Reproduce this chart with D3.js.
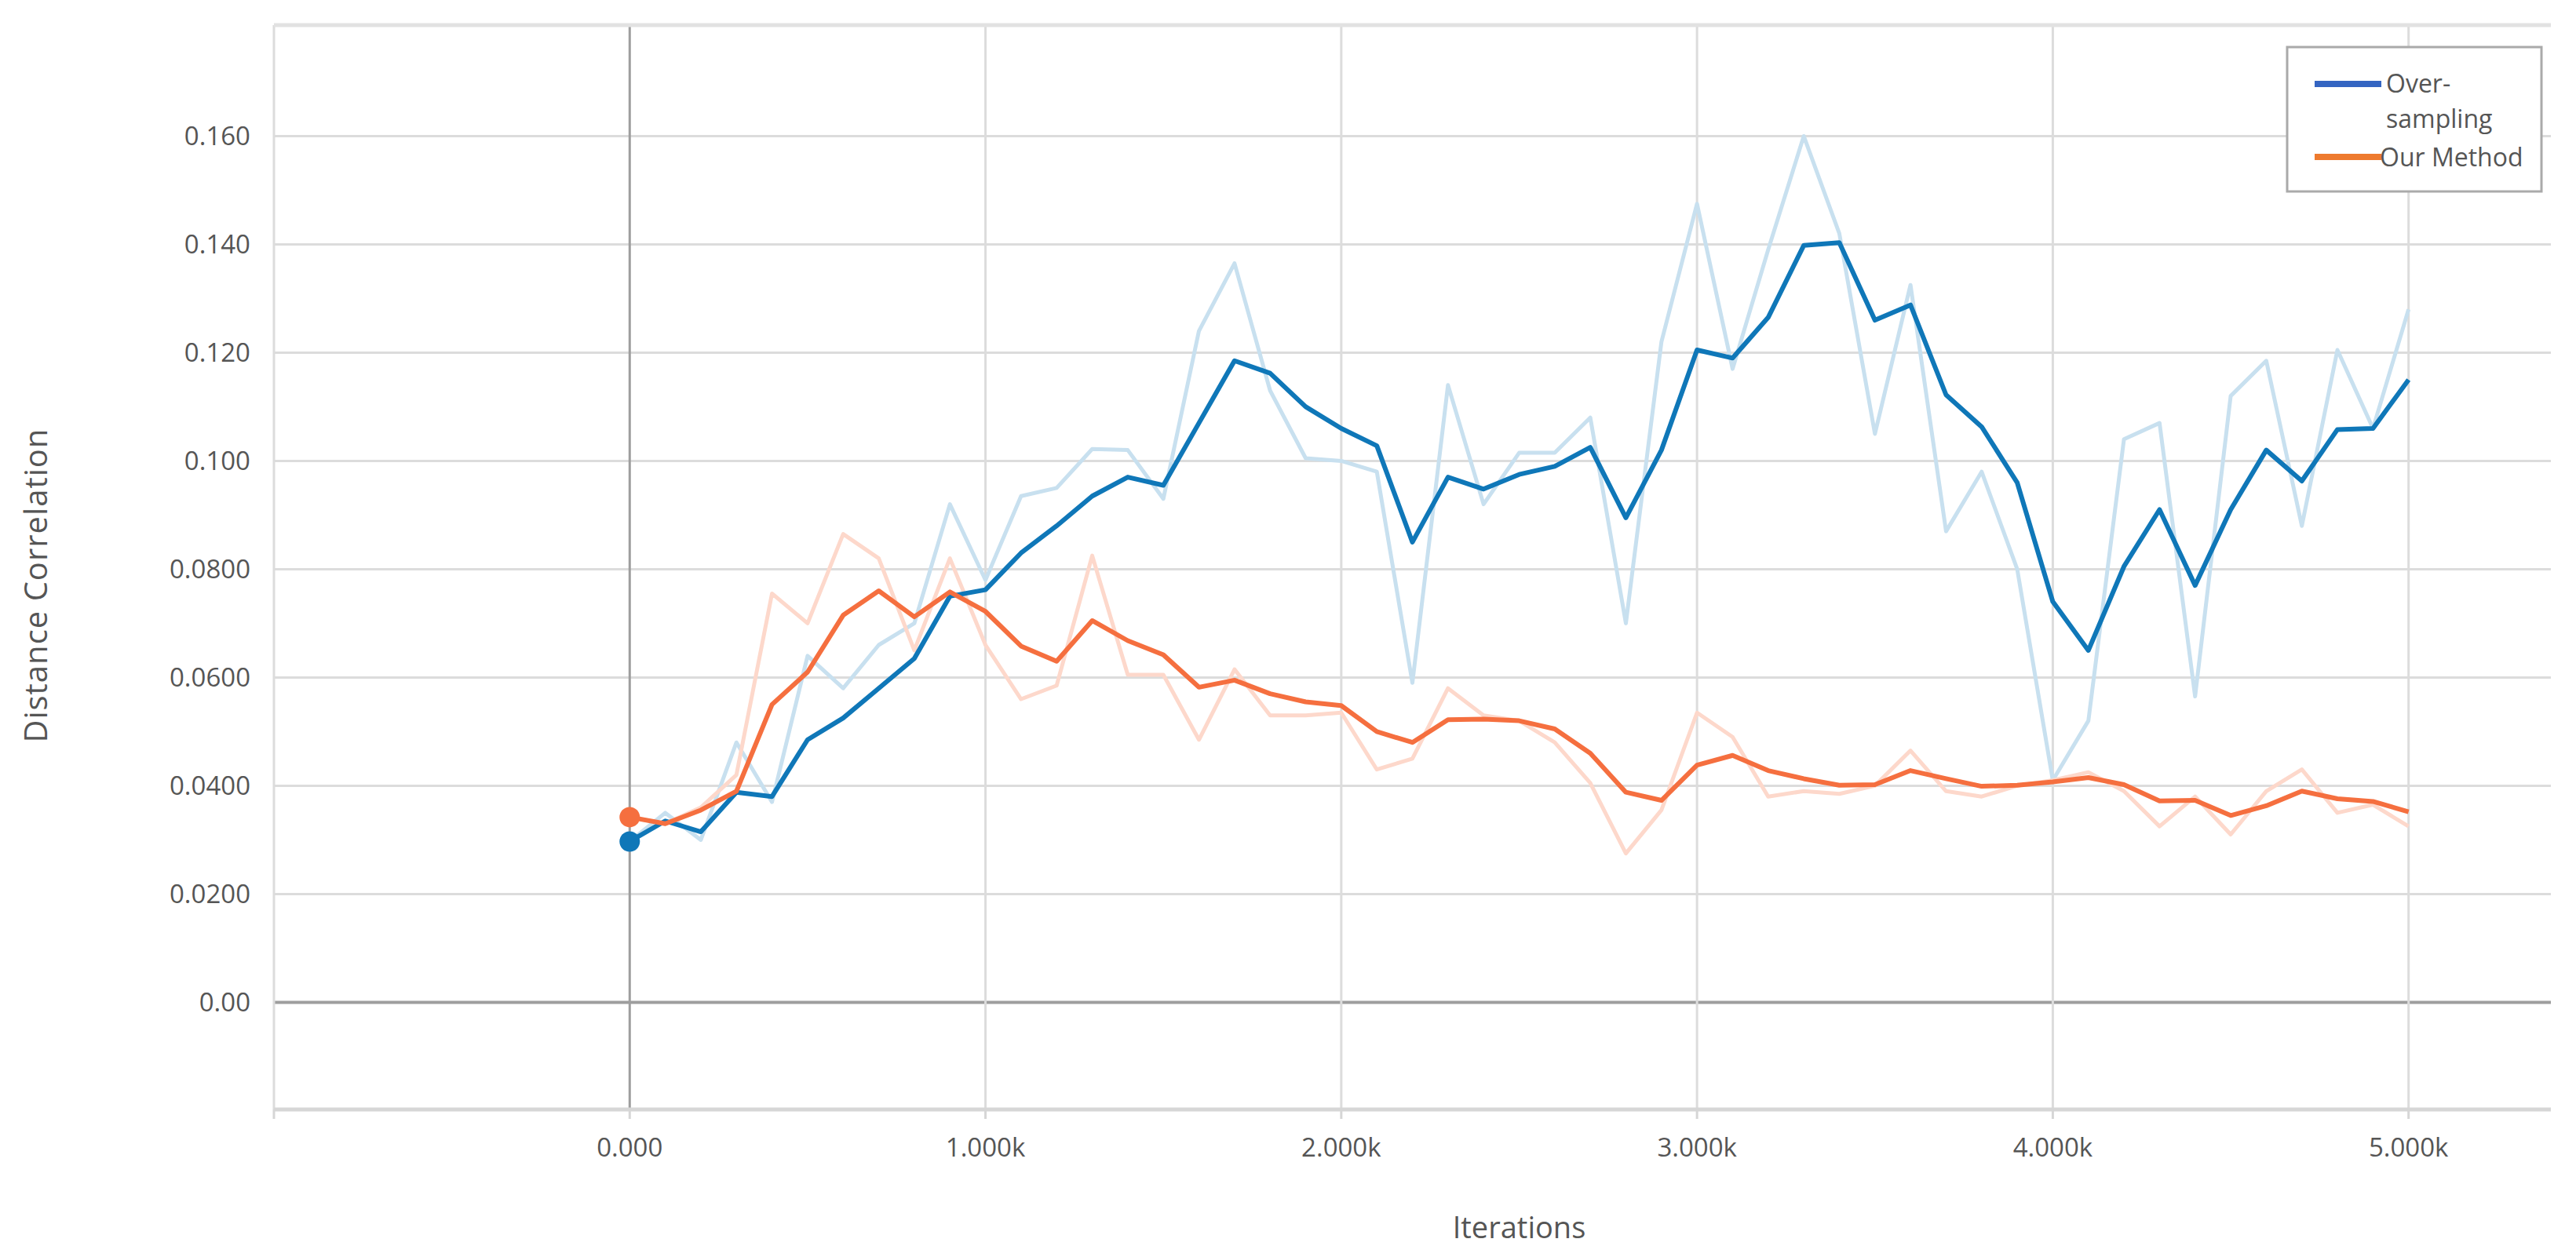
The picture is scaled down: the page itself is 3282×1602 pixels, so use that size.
<!DOCTYPE html>
<html><head><meta charset="utf-8">
<script src="https://cdn.jsdelivr.net/npm/d3@7"></script>
<style>body{margin:0;background:#fff}text{font-family:"Open Sans",sans-serif;fill:#555}</style>
</head><body><svg id="c" width="3282" height="1602"></svg>
<script>
var steps = d3.range(0, 5001, 100);
var overRaw = [0.0297,0.035,0.030,0.048,0.037,0.064,0.058,0.066,0.070,0.092,0.078,0.0935,0.095,0.1022,0.102,0.093,0.124,0.1365,0.113,0.1005,0.100,0.098,0.059,0.114,0.092,0.1015,0.1015,0.108,0.070,0.122,0.1475,0.117,0.139,0.160,0.142,0.105,0.1325,0.087,0.098,0.080,0.041,0.052,0.104,0.107,0.0565,0.112,0.1185,0.088,0.1205,0.106,0.128];
var overSmooth = [0.0297,0.0335,0.0315,0.0388,0.038,0.0485,0.0525,0.058,0.0635,0.075,0.0762,0.083,0.088,0.0935,0.097,0.0955,0.107,0.1185,0.1162,0.110,0.106,0.1028,0.085,0.097,0.0948,0.0975,0.099,0.1025,0.0895,0.102,0.1205,0.119,0.1265,0.1398,0.1403,0.126,0.1288,0.1122,0.1063,0.096,0.074,0.065,0.0805,0.091,0.077,0.091,0.102,0.0963,0.1058,0.106,0.115];
var oursRaw = [0.0342,0.033,0.036,0.042,0.0755,0.070,0.0865,0.082,0.065,0.082,0.066,0.056,0.0585,0.0825,0.0605,0.0605,0.0485,0.0615,0.053,0.053,0.0535,0.043,0.045,0.058,0.053,0.052,0.048,0.0405,0.0275,0.0355,0.0535,0.049,0.038,0.039,0.0385,0.040,0.0465,0.039,0.038,0.040,0.041,0.0425,0.039,0.0325,0.038,0.031,0.039,0.043,0.035,0.0365,0.0325];
var oursSmooth = [0.0342,0.033,0.0355,0.039,0.055,0.061,0.0715,0.076,0.0712,0.0758,0.0722,0.0658,0.0630,0.0705,0.0668,0.0642,0.0582,0.0595,0.057,0.0555,0.0548,0.050,0.048,0.0522,0.0523,0.052,0.0505,0.046,0.0388,0.0373,0.0438,0.0456,0.0428,0.0413,0.0401,0.0402,0.0428,0.0413,0.0399,0.0401,0.0407,0.0415,0.0402,0.0372,0.0373,0.0345,0.0363,0.039,0.0376,0.0371,0.0352];
var yTicks = [0, 0.02, 0.04, 0.06, 0.08, 0.10, 0.12, 0.14, 0.16];
var yTickLabels = ["0.00","0.0200","0.0400","0.0600","0.0800","0.100","0.120","0.140","0.160"];
var xTicks = [0, 1000, 2000, 3000, 4000, 5000];
var xTickLabels = ["0.000","1.000k","2.000k","3.000k","4.000k","5.000k"];
var seriesNames = ["Over-sampling", "Our Method"];

var svg = d3.select('#c');
var L = 349, R = 3250, T = 32, B = 1414;
var x = d3.scaleLinear().domain([-1000, 5400]).range([L, R]);
var y = d3.scaleLinear().domain([-0.0198, 0.1805]).range([B, T]);

// grid
svg.selectAll('.gy').data(yTicks).enter().append('line')
  .attr('x1', L).attr('x2', R).attr('y1', y).attr('y2', y)
  .attr('stroke', function(d) { return d === 0 ? '#9e9e9e' : '#dcdcdc'; })
  .attr('stroke-width', function(d) { return d === 0 ? 4 : 3; });
svg.selectAll('.gx').data([-1000].concat(xTicks)).enter().append('line')
  .attr('x1', x).attr('x2', x).attr('y1', T).attr('y2', B)
  .attr('stroke', function(d) { return d === 0 ? '#9e9e9e' : '#dcdcdc'; })
  .attr('stroke-width', 3);
svg.append('line').attr('x1', L).attr('x2', R).attr('y1', T).attr('y2', T).attr('stroke', '#e2e2e2').attr('stroke-width', 5);
svg.append('line').attr('x1', L).attr('x2', R).attr('y1', B).attr('y2', B).attr('stroke', '#d6d6d6').attr('stroke-width', 5);
svg.selectAll('.tk').data([-1000].concat(xTicks)).enter().append('line')
  .attr('x1', x).attr('x2', x).attr('y1', B).attr('y2', B + 12).attr('stroke', '#d6d6d6').attr('stroke-width', 3);

// tick labels
svg.selectAll('.yl').data(yTicks).enter().append('text')
  .attr('x', L - 30).attr('y', function(d) { return y(d) + 12; })
  .attr('text-anchor', 'end').attr('font-size', 33)
  .text(function(d, i) { return yTickLabels[i]; });
svg.selectAll('.xl').data(xTicks).enter().append('text')
  .attr('x', x).attr('y', 1474).attr('text-anchor', 'middle').attr('font-size', 33)
  .text(function(d, i) { return xTickLabels[i]; });
svg.append('text').attr('x', x(2500)).attr('y', 1578).attr('text-anchor', 'middle').attr('font-size', 38).text('Iterations');
svg.append('text').attr('transform', 'translate(60,' + y(0.077) + ') rotate(-90)').attr('text-anchor', 'middle')
  .attr('font-size', 40).attr('font-family', 'DejaVu Sans').attr('letter-spacing', 1).text('Distance Correlation');

// lines
var line = d3.line().x(function(d, i) { return x(steps[i]); }).y(function(d) { return y(d); });
function draw(data, color, w) {
  svg.append('path').datum(data).attr('d', line).attr('fill', 'none')
    .attr('stroke', color).attr('stroke-width', w).attr('stroke-linejoin', 'round');
}
draw(overRaw, '#c8e0ef', 5);
draw(oursRaw, '#fdd8cb', 5);
draw(overSmooth, '#0f77b8', 6);
draw(oursSmooth, '#f56f3f', 6);
svg.append('circle').attr('cx', x(0)).attr('cy', y(overSmooth[0])).attr('r', 13).attr('fill', '#0f77b8');
svg.append('circle').attr('cx', x(0)).attr('cy', y(oursSmooth[0])).attr('r', 13).attr('fill', '#f56f3f');

// legend
var lg = svg.append('g').attr('transform', 'translate(2914,60)');
lg.append('rect').attr('width', 324).attr('height', 184).attr('fill', '#fff').attr('stroke', '#aaa').attr('stroke-width', 3);
lg.append('line').attr('x1', 35).attr('x2', 120).attr('y1', 47).attr('y2', 47).attr('stroke', '#3465c2').attr('stroke-width', 8);
lg.append('line').attr('x1', 35).attr('x2', 120).attr('y1', 140).attr('y2', 140).attr('stroke', '#ee7a2e').attr('stroke-width', 8);
lg.append('text').attr('x', 126).attr('y', 58).attr('font-size', 32).text('Over-');
lg.append('text').attr('x', 126).attr('y', 103).attr('font-size', 32).text('sampling');
lg.append('text').attr('x', 118).attr('y', 152).attr('font-size', 32).text(seriesNames[1]);
</script></body></html>
